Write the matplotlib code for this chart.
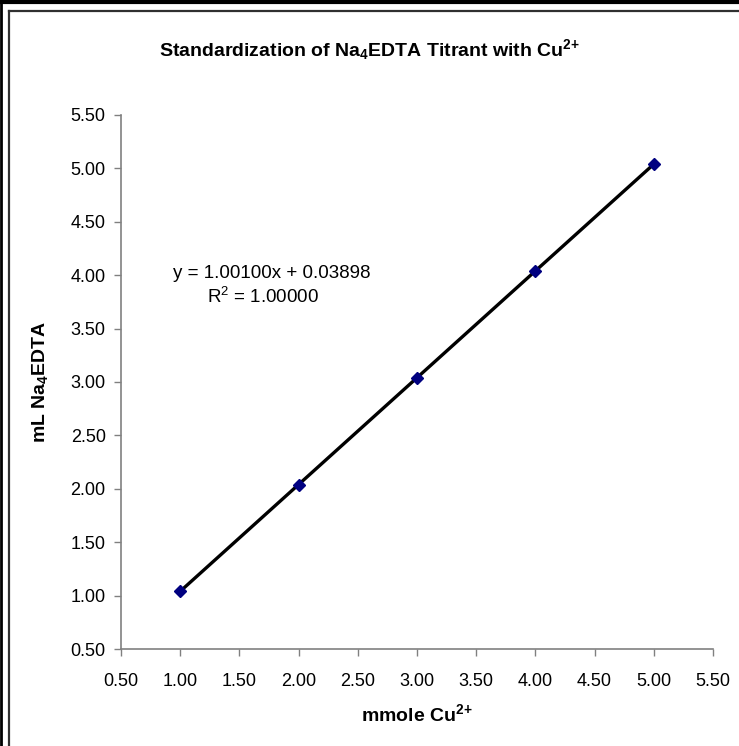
import matplotlib
matplotlib.use("Agg")
import matplotlib.pyplot as plt
from matplotlib.lines import Line2D
import numpy as np

plt.rcParams['font.family'] = ['Liberation Sans', 'DejaVu Sans']
plt.rcParams['mathtext.fontset'] = 'custom'
plt.rcParams['mathtext.rm'] = 'Liberation Sans'
plt.rcParams['mathtext.it'] = 'Liberation Sans'
plt.rcParams['mathtext.bf'] = 'Liberation Sans:bold'

# data
mmole_cu = [1.00, 2.00, 3.00, 4.00, 5.00]
ml_edta = [1.04, 2.04, 3.04, 4.04, 5.04]
tick_vals = [0.5, 1.0, 1.5, 2.0, 2.5, 3.0, 3.5, 4.0, 4.5, 5.0, 5.5]
eq_line = "y = 1.00100x + 0.03898"
r2_line = "R$^2$ = 1.00000"

fig = plt.figure(figsize=(7.39, 7.46), dpi=100)
ax = fig.add_axes([121 / 739, 1 - 649 / 746, (713 - 121) / 739, (649 - 115) / 746])

# trendline over the data range
slope, icpt = np.polyfit(mmole_cu, ml_edta, 1)
xs = np.array([min(mmole_cu), max(mmole_cu)])
ax.plot(xs, slope * xs + icpt, color='black', lw=2.4, zorder=2)
ax.plot(mmole_cu, ml_edta, ls='none', marker='D', ms=6.5, color='#000080',
        markeredgecolor='#000080', zorder=3)

ax.set_xlim(0.5, 5.5)
ax.set_ylim(0.5, 5.5)
ax.set_xticks(tick_vals)
ax.set_yticks(tick_vals)
ax.set_xticklabels([f"{v:.2f}" for v in tick_vals])
ax.set_yticklabels([f"{v:.2f}" for v in tick_vals])
ax.tick_params(direction='out', length=5, width=1, color='#808080', labelsize=13)
ax.tick_params(axis='x', pad=12)
ax.tick_params(axis='y', pad=6)
for s in ['top', 'right']:
    ax.spines[s].set_visible(False)
for s in ['left', 'bottom']:
    ax.spines[s].set_color('#808080')
    ax.spines[s].set_linewidth(1.2)

cu_sup = r"Cu$^{\mathbf{2}{\mathbf{+}}}$"
ax.set_xlabel("mmole " + cu_sup, fontsize=14, fontweight='bold', labelpad=10)
ax.set_ylabel(r"mL Na$_\mathbf{4}$EDTA", fontsize=14, fontweight='bold', labelpad=15)
fig.text(0.5, 1 - 50 / 746, r"Standardization of Na$_\mathbf{4}$EDTA Titrant with " + cu_sup,
         ha='center', va='center', fontsize=14, fontweight='bold')

ax.text(1.775, 4.02, eq_line, ha='center', va='center', fontsize=13.5)
ax.text(1.70, 3.80, r2_line, ha='center', va='center', fontsize=13.5)

# screenshot frame lines (outer and inner chart border)
fig.add_artist(Line2D([0, 1], [1 - 1.5 / 746, 1 - 1.5 / 746], color='black', lw=3, transform=fig.transFigure))
fig.add_artist(Line2D([1 / 739, 1 / 739], [0, 1], color='black', lw=2, transform=fig.transFigure))
fig.add_artist(Line2D([8.5 / 739, 1], [1 - 11 / 746, 1 - 11 / 746], color='#303030', lw=1.6, transform=fig.transFigure))
fig.add_artist(Line2D([8.5 / 739, 8.5 / 739], [0, 1 - 11 / 746], color='#303030', lw=1.6, transform=fig.transFigure))

fig.savefig("out.png", dpi=100)
